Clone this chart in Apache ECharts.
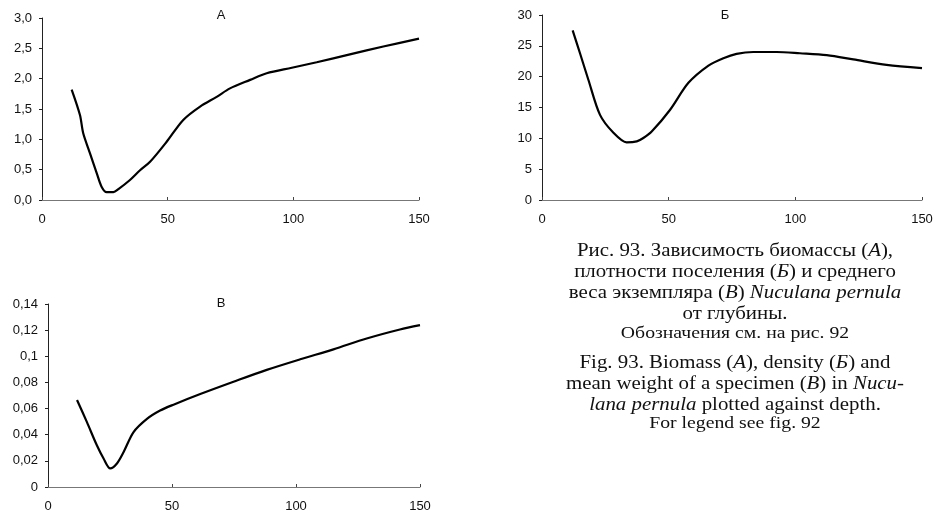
<!DOCTYPE html>
<html>
<head>
<meta charset="utf-8">
<script src="https://cdn.jsdelivr.net/npm/echarts@6/dist/echarts.min.js"></script>
<style>html,body{margin:0;padding:0;background:#fff}#c{width:936px;height:513px}</style>
</head>
<body>
<div id="c"></div>
<script>
// Panel A: biomass vs depth
const depthA = [11.8, 15.1, 16.4, 19.1, 21.8, 23.7, 25.7, 28.4, 30.4, 35.0, 39.0, 43.0, 49.6, 56.2, 62.9, 69.5, 74.8, 82.8, 89.4, 99.4, 109.3, 122.5, 135.8, 150];
const biomassA = [1.82, 1.40, 1.10, 0.77, 0.44, 0.22, 0.13, 0.13, 0.18, 0.33, 0.49, 0.63, 0.96, 1.32, 1.54, 1.70, 1.84, 1.98, 2.09, 2.18, 2.27, 2.40, 2.53, 2.66];
// Panel Б: density vs depth
const depthB = [12.1, 15.0, 18.3, 22.9, 28.2, 33.4, 37.4, 40.0, 43.3, 50.5, 57.8, 65.7, 71.6, 76.8, 83.4, 92.6, 101.8, 112.4, 122.9, 136.0, 150];
const densityB = [27.5, 23.8, 19.5, 13.8, 10.9, 9.35, 9.5, 10.05, 11.1, 14.6, 19.0, 21.8, 23.0, 23.7, 24.0, 24.0, 23.8, 23.5, 22.8, 21.9, 21.4];
// Panel В: mean weight vs depth
const depthV = [11.7, 15.7, 19.7, 22.4, 25.1, 27.8, 30.5, 34.5, 39.9, 45.2, 50.6, 61.4, 74.8, 88.2, 101.7, 115.1, 128.5, 141.9, 150];
const weightV = [0.0666, 0.0496, 0.0319, 0.0218, 0.0142, 0.0180, 0.0268, 0.042, 0.0521, 0.0585, 0.063, 0.0711, 0.0805, 0.0896, 0.0977, 0.1053, 0.1136, 0.1205, 0.1238];

const panelTitles = ['А', 'Б', 'В'];

const captionRu = [
  [['n', 'Рис. 93. Зависимость биомассы ('], ['i', 'А'], ['n', '),']],
  [['n', 'плотности поселения ('], ['i', 'Б'], ['n', ') и среднего']],
  [['n', 'веса экземпляра ('], ['i', 'В'], ['n', ') '], ['i', 'Nuculana pernula']],
  [['n', 'от глубины.']],
  [['s', 'Обозначения см. на рис. 92']]
];
const captionEn = [
  [['n', 'Fig. 93. Biomass ('], ['i', 'A'], ['n', '), density ('], ['i', 'Б'], ['n', ') and']],
  [['n', 'mean weight of a specimen ('], ['i', 'B'], ['n', ') in '], ['i', 'Nucu-']],
  [['i', 'lana pernula'], ['n', ' plotted against depth.']],
  [['s', 'For legend see fig. 92']]
];

function pairs(xs, ys) { return xs.map((x, i) => [x, ys[i]]); }
function fmtNum(v, d) {
  let s = (+v.toFixed(d)).toString();
  return s.replace('.', ',');
}

const sans = 'Liberation Sans, Arial, sans-serif';
const serif = 'Liberation Serif, Times New Roman, serif';

const grids = [
  { left: 42, top: 18, width: 377, height: 182 },
  { left: 542, top: 15, width: 380, height: 185 },
  { left: 48, top: 304, width: 372, height: 185 }
];

const yDefs = [
  { max: 3, interval: 0.5, fmt: v => v.toFixed(1).replace('.', ',') },
  { max: 30, interval: 5, fmt: v => String(v) },
  { max: 0.14, interval: 0.02, fmt: v => fmtNum(v, 2) }
];

const xAxes = grids.map((g, i) => ({
  type: 'value', gridIndex: i, min: 0, max: 150, interval: 50,
  axisLine: { lineStyle: { color: '#777', width: 1 } },
  axisTick: { show: true, inside: true, length: 3, lineStyle: { color: '#444' } },
  splitLine: { show: false },
  axisLabel: { color: '#111', fontSize: 13, fontFamily: sans, margin: 13 }
}));
const yAxes = grids.map((g, i) => ({
  type: 'value', gridIndex: i, min: 0, max: yDefs[i].max, interval: yDefs[i].interval,
  axisLine: { show: true, lineStyle: { color: '#222', width: 1 } },
  axisTick: { show: true, inside: false, length: 3, lineStyle: { color: '#222' } },
  splitLine: { show: false },
  axisLabel: { color: '#111', fontSize: 13, fontFamily: sans, margin: 10, formatter: yDefs[i].fmt }
}));

const datasets = [pairs(depthA, biomassA), pairs(depthB, densityB), pairs(depthV, weightV)];
const series = datasets.map((d, i) => ({
  type: 'line', xAxisIndex: i, yAxisIndex: i, data: d, smooth: 0.3,
  showSymbol: false, symbol: 'none',
  lineStyle: { color: '#000', width: 2.2 }, animation: false
}));

const titlePos = [[221, 15], [725, 15], [221, 303]];
const graphics = [];
panelTitles.forEach((t, i) => {
  graphics.push({
    type: 'text', x: titlePos[i][0], y: titlePos[i][1],
    style: { text: t, font: '13px ' + sans, fill: '#111', align: 'center', verticalAlign: 'middle' }
  });
});

const rich = {
  n: { fontFamily: serif, fontSize: 18, color: '#111' },
  i: { fontFamily: serif, fontSize: 18, fontStyle: 'italic', color: '#111' },
  s: { fontFamily: serif, fontSize: 17, color: '#111' }
};
function addCaption(lines, ys) {
  lines.forEach((parts, k) => {
    const txt = parts.map(p => '{' + p[0] + '|' + p[1] + '}').join('');
    graphics.push({
      type: 'text', x: 735, y: ys[k], scaleX: 1.16,
      style: { text: txt, rich: rich, align: 'center', verticalAlign: 'middle', fill: '#111' }
    });
  });
}
addCaption(captionRu, [251, 272, 293, 314, 334]);
addCaption(captionEn, [363, 384, 405, 424]);

const chart = echarts.init(document.getElementById('c'), null, { renderer: 'canvas' });
chart.setOption({
  animation: false,
  backgroundColor: '#fff',
  grid: grids.map(g => Object.assign({ containLabel: false }, g)),
  xAxis: xAxes,
  yAxis: yAxes,
  series: series,
  graphic: graphics
});
</script>
</body>
</html>
